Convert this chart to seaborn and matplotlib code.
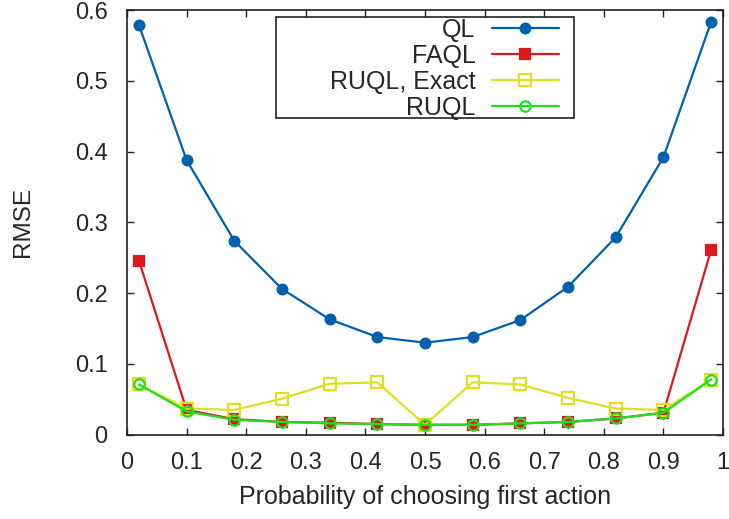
import numpy as np
import pandas as pd
import seaborn as sb
from matplotlib import pyplot as plt
from matplotlib.patches import Rectangle

# probability of choosing first action
prob = [0.02, 0.10, 0.18, 0.26, 0.34, 0.42, 0.50, 0.58, 0.66, 0.74, 0.82, 0.90, 0.98]

rmse_ql = [0.579, 0.388, 0.274, 0.206, 0.163, 0.138, 0.130, 0.138, 0.162, 0.209, 0.279, 0.392, 0.583]
rmse_faql = [0.246, 0.035, 0.022, 0.018, 0.017, 0.015, 0.014, 0.014, 0.016, 0.018, 0.023, 0.031, 0.261]
rmse_ruql_exact = [0.071, 0.037, 0.035, 0.051, 0.072, 0.074, 0.014, 0.074, 0.071, 0.052, 0.037, 0.035, 0.078]
rmse_ruql = [0.071, 0.033, 0.021, 0.018, 0.016, 0.015, 0.014, 0.014, 0.016, 0.018, 0.023, 0.031, 0.078]

series_names = ['QL', 'FAQL', 'RUQL, Exact', 'RUQL']

sb.set_style('ticks')
plt.rcParams['font.family'] = ['Liberation Sans', 'DejaVu Sans']
plt.rcParams['xtick.direction'] = 'in'
plt.rcParams['ytick.direction'] = 'in'

TICK_FS = 17
LABEL_FS = 18

fig = plt.figure(figsize=(7.29, 5.19), dpi=100)
ax = fig.add_axes([0.1742, 0.1624, 0.8176, 0.8183])

df = pd.DataFrame({'prob': prob, 'QL': rmse_ql, 'FAQL': rmse_faql,
                   'RUQL, Exact': rmse_ruql_exact, 'RUQL': rmse_ruql})

styles = {
    'QL': dict(color='#0060ad', marker='o', markersize=7, markerfacecolor='#0060ad'),
    'FAQL': dict(color='#dd181f', marker='s', markersize=7, markerfacecolor='#dd181f'),
    'RUQL, Exact': dict(color='#e0e020', marker='s', markersize=8, markerfacecolor='none'),
    'RUQL': dict(color='#22dd22', marker='o', markersize=7.5, markerfacecolor='none'),
}

for name in series_names:
    st = styles[name]
    sb.lineplot(data=df, x='prob', y=name, ax=ax, label=name, linewidth=1.6,
                markeredgecolor=st['color'], markeredgewidth=1.6, **st)

ax.set_xlim(0, 1)
ax.set_ylim(0, 0.6)
ax.set_xticks(np.arange(0, 1.01, 0.1))
ax.set_xticklabels(['0', '0.1', '0.2', '0.3', '0.4', '0.5', '0.6', '0.7', '0.8', '0.9', '1'])
ax.set_yticks(np.arange(0, 0.61, 0.1))
ax.set_yticklabels(['0', '0.1', '0.2', '0.3', '0.4', '0.5', '0.6'])
ax.tick_params(axis='x', which='both', labelsize=TICK_FS, length=5, width=1, color='#222222',
               top=True, pad=12.3)
ax.tick_params(axis='y', which='both', labelsize=TICK_FS, length=5, width=1, color='#222222',
               right=True, pad=14)
for sp in ax.spines.values():
    sp.set_color('#222222')
    sp.set_linewidth(1.2)

ax.set_xlabel('Probability of choosing first action', fontsize=LABEL_FS, labelpad=8)
ax.set_ylabel('RMSE', fontsize=17.5, labelpad=29)

# legend: text right-aligned, sample to the right, boxed
leg = ax.legend(loc='upper right', bbox_to_anchor=(0.725, 0.981), frameon=False,
                markerfirst=False, fontsize=LABEL_FS, handlelength=2.7, handletextpad=0.64,
                labelspacing=0.08, borderaxespad=0, borderpad=0.0)
ax.add_patch(Rectangle((0.25, 0.7457), 0.5, 0.2383, transform=ax.transAxes,
                       fill=False, edgecolor='#222222', linewidth=1.2, zorder=5))

plt.savefig('out.png', dpi=100)
